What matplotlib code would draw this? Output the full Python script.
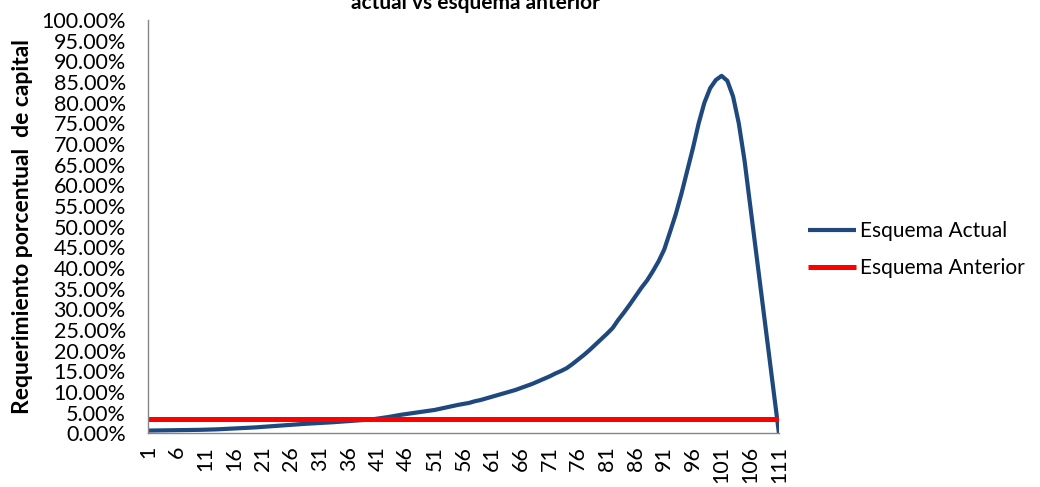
import numpy as np
import matplotlib.pyplot as plt
from matplotlib.ticker import FuncFormatter

plt.rcParams['font.family'] = ['Lato', 'DejaVu Sans']

# periods 1..111
periods = np.arange(1, 112)

# capital requirement (%), current scheme
esquema_actual = [
    0.70, 0.72, 0.74, 0.76, 0.78, 0.80, 0.82, 0.84, 0.86, 0.88,
    0.92, 0.96, 1.00, 1.07, 1.14, 1.21, 1.28, 1.35, 1.42, 1.50,
    1.60, 1.70, 1.80, 1.90, 2.00, 2.10, 2.20, 2.30, 2.38, 2.46,
    2.54, 2.62, 2.70, 2.80, 2.90, 3.00, 3.10, 3.20, 3.30, 3.40,
    3.60, 3.80, 4.00, 4.25, 4.50, 4.70, 4.90, 5.10, 5.30, 5.50,
    5.70, 6.00, 6.30, 6.60, 6.90, 7.15, 7.40, 7.80, 8.10, 8.50,
    8.90, 9.30, 9.70, 10.10, 10.50, 11.00, 11.50, 12.00, 12.60, 13.20,
    13.80, 14.50, 15.10, 15.80, 16.80, 17.90, 19.00, 20.20, 21.50, 22.80,
    24.10, 25.50, 27.50, 29.30, 31.20, 33.20, 35.20, 37.00, 39.20, 41.60,
    44.50, 48.70, 53.00, 58.00, 63.50, 69.00, 75.00, 80.00, 83.50, 85.50,
    86.50, 85.30, 81.50, 75.00, 66.00, 55.00, 44.00, 33.00, 22.00, 11.00,
    0.00,
]
# previous scheme: flat requirement
esquema_anterior = [3.5] * len(periods)

x_ticks = periods[::5]

fig = plt.figure(figsize=(10.4, 4.87), dpi=100)
ax = fig.add_axes([0.1423, 0.1099, 0.6067, 0.849])

ax.plot(periods, np.array(esquema_actual) / 100, color='#1F497D', lw=3,
        label='Esquema Actual', solid_capstyle='butt')
ax.plot(periods, np.array(esquema_anterior) / 100, color='#FF0000', lw=3.6,
        label='Esquema Anterior', solid_capstyle='butt')

ax.set_xlim(1, 111)
ax.set_ylim(0, 1)
ax.set_yticks(np.arange(0, 1.0001, 0.05))
ax.yaxis.set_major_formatter(FuncFormatter(lambda v, p: f'{v * 100:.2f}%'))
ax.set_xticks(x_ticks)
ax.set_xticklabels([str(t) for t in x_ticks], rotation=90)
ax.tick_params(axis='both', length=0, labelsize=15.5, colors='black')
ax.tick_params(axis='x', pad=9)
ax.tick_params(axis='y', pad=16)

for s in ['top', 'right']:
    ax.spines[s].set_visible(False)
for s in ['left', 'bottom']:
    ax.spines[s].set_color('#868686')
    ax.spines[s].set_linewidth(1)

ax.set_ylabel('Requerimiento porcentual  de capital', fontsize=16.5,
              fontweight='bold', labelpad=6)

fig.text(0.457, 0.994, 'actual vs esquema anterior', ha='center', va='center',
         fontsize=15, fontweight='bold')

fig.legend(loc='center left', bbox_to_anchor=(0.777, 0.487), frameon=False,
           fontsize=15, handlelength=2.3, handletextpad=0.2, labelspacing=0.8,
           borderpad=0, borderaxespad=0)

fig.savefig('out.png', dpi=100)
